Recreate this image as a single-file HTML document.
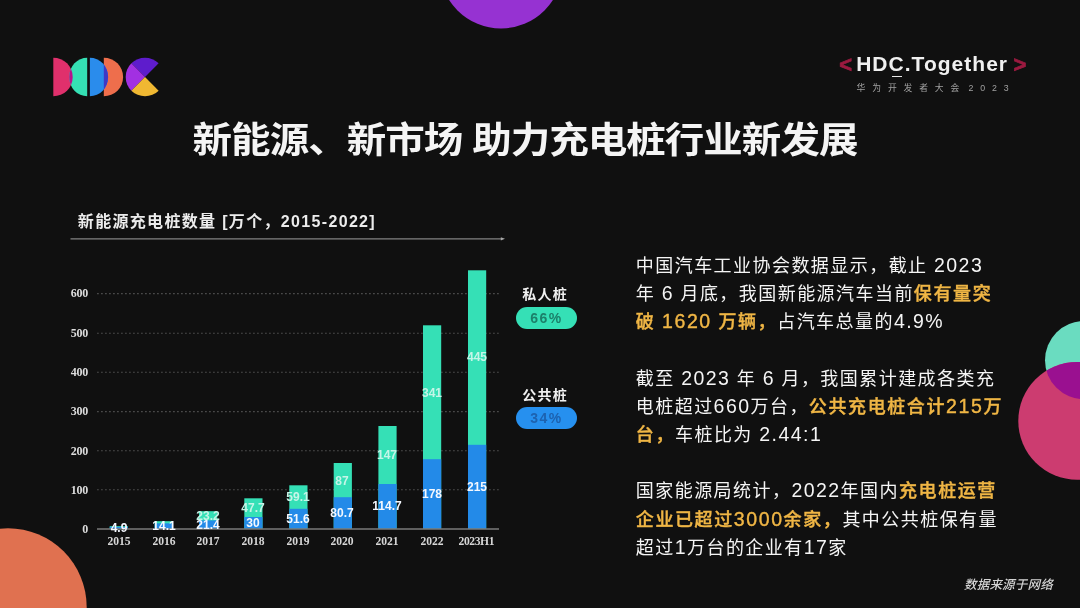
<!DOCTYPE html>
<html lang="zh-CN">
<head>
<meta charset="utf-8">
<title>新能源、新市场 助力充电桩行业新发展</title>
<style>
  html, body { margin: 0; padding: 0; }
  html { background: #101010; }
  body {
    width: 1080px; height: 608px; overflow: hidden; position: relative;
    background: #101010;
    font-family: "Liberation Sans", "Noto Sans CJK SC", sans-serif;
    color: #f2f2f2;
    filter: blur(0.35px);
  }
  .abs { position: absolute; white-space: nowrap; }
  svg.layer { position: absolute; left: 0; top: 0; width: 1080px; height: 608px; }

  /* header brand */
  .brand { left: 856.2px; top: 50px; font-size: 21px; font-weight: bold; line-height: 28px; letter-spacing: 1.02px; color: #f0f0f0; }
  .chev { top: 51.3px; font-size: 22px; font-weight: bold; line-height: 28px; color: #9c1a40; -webkit-text-stroke: 0.7px #9c1a40; }
  .brand-ul { left: 892.4px; top: 75.5px; width: 9.6px; height: 1.6px; background: #e8e8e8; }
  .brand-sub { left: 856.6px; top: 81.5px; font-size: 8.8px; line-height: 12px; letter-spacing: 6.85px; color: #a0a0a0; }
  .brand-sub span { margin-left: 2.4px; }

  /* title */
  .title { left: 192.6px; top: 117.3px; font-size: 39.5px; line-height: 52px; font-weight: bold; color: #f4f4f4; letter-spacing: -0.98px; transform: scaleY(0.91); transform-origin: left top; }

  /* chart */
  .chart-title { left: 77.8px; top: 210.1px; font-size: 16px; line-height: 24px; font-weight: bold; letter-spacing: 1.33px; color: #ececec; }
  .ylab { width: 26px; left: 62px; text-align: right; font-family: "Liberation Serif", serif; font-size: 12px; line-height: 14px; color: #dcdcdc; font-weight: bold; letter-spacing: -0.25px; }
  .xlab { width: 60px; text-align: center; font-family: "Liberation Serif", "Noto Serif CJK SC", serif; font-size: 11.6px; font-weight: bold; line-height: 14px; top: 534.6px; color: #d6d6d6; }
  .val { width: 60px; text-align: center; font-size: 12px; line-height: 12px; color: #f4f8ff; font-weight: bold; }
  .val.g { color: #c6f5e8; }
  .leg { font-size: 14px; line-height: 18px; font-weight: bold; color: #f0f0f0; letter-spacing: 1.2px; }
  .pill { left: 516px; width: 61px; height: 22px; border-radius: 11px; text-align: center; font-size: 14px; line-height: 22px; font-weight: bold; letter-spacing: 1.5px; }
  .pill.g { top: 306.8px; background: #35e0b6; color: #1c806a; }
  .pill.b { top: 407.3px; background: #2690ef; color: #1d62b0; }

  /* body text */
  .ln { left: 635.8px; font-size: 18px; line-height: 28px; letter-spacing: 1.45px; color: #f5f5f5; }
  .ln .n { font-size: 19.5px; }
  .hl { color: #f0b645; font-weight: 500; -webkit-text-stroke: 0.4px #f0b645; letter-spacing: 1.6px; }
  .src { left: 964px; top: 576px; font-size: 12.5px; line-height: 18px; font-style: italic; font-weight: 500; color: #d4d4d4; letter-spacing: 0.2px; }
</style>
</head>
<body>

<!-- decorative shapes + logo + chart graphics -->
<svg class="layer" viewBox="0 0 1080 608">
  <!-- decorative circles -->
  <circle cx="501" cy="-33" r="61.5" fill="#9632d2"/>
  <circle cx="8" cy="607" r="78.7" fill="#e07150"/>
  <circle cx="1084.1" cy="360.2" r="39.1" fill="#6adcc0"/>
  <circle cx="1077.2" cy="420.9" r="58.9" fill="#cc3c70"/>
  <clipPath id="cpTeal"><circle cx="1084.1" cy="360.2" r="39.1"/></clipPath>
  <circle cx="1077.2" cy="420.9" r="58.9" fill="#9a1090" clip-path="url(#cpTeal)"/>

  <!-- HDC logo -->
  <g id="logo">
    <path d="M53.3 57.7 A19.4 19.3 0 0 1 53.3 96.3 Z" fill="#e0306c"/>
    <path d="M87.2 57.7 A18 19.3 0 0 0 87.2 96.3 Z" fill="#35e0b4"/>
    <clipPath id="cpPink"><path d="M53.3 57.7 A19.4 19.3 0 0 1 53.3 96.3 Z"/></clipPath>
    <path d="M87.2 57.7 A18 19.3 0 0 0 87.2 96.3 Z" fill="#b8108c" clip-path="url(#cpPink)"/>
    <path d="M103.8 57.7 A19.3 19.3 0 0 1 103.8 96.3 Z" fill="#ee6e4c"/>
    <path d="M89.9 57.7 A18.2 19.3 0 0 1 89.9 96.3 Z" fill="#2a8cec"/>
    <clipPath id="cpOr"><path d="M103.8 57.7 A19.3 19.3 0 0 1 103.8 96.3 Z"/></clipPath>
    <path d="M89.9 57.7 A18.2 19.3 0 0 1 89.9 96.3 Z" fill="#4038c4" clip-path="url(#cpOr)"/>
    <!-- C -->
    <path d="M145 77 L131.35 63.35 A19.3 19.3 0 0 1 158.65 63.35 Z" fill="#5e1ccc"/>
    <path d="M145 77 L131.35 90.65 A19.3 19.3 0 0 1 131.35 63.35 Z" fill="#a230e2"/>
    <path d="M145 77 L158.65 90.65 A19.3 19.3 0 0 1 131.35 90.65 Z" fill="#f0b832"/>
  </g>

  <!-- chart header line -->
  <line x1="70.5" y1="238.85" x2="502" y2="238.85" stroke="#828282" stroke-width="1.3"/>
  <path d="M500.8 237.2 L505 238.85 L500.8 240.5 Z" fill="#a8a8a8"/>

  <!-- grid lines -->
  <g stroke="#4a4a4a" stroke-width="1.1" stroke-dasharray="1.8 2.2" fill="none">
    <line x1="97" y1="293.6" x2="499" y2="293.6"/>
    <line x1="97" y1="333.2" x2="499" y2="333.2"/>
    <line x1="97" y1="372.2" x2="499" y2="372.2"/>
    <line x1="97" y1="411.6" x2="499" y2="411.6"/>
    <line x1="97" y1="450.8" x2="499" y2="450.8"/>
    <line x1="97" y1="489.8" x2="499" y2="489.8"/>
  </g>

  <!-- bars: green (private) then blue (public) -->
  <g fill="#35e0b6">
    <rect x="109.7" y="526.2" width="18.2" height="2.6"/>
    <rect x="154.6" y="521.2" width="18.2" height="7.6"/>
    <rect x="199" y="511.2" width="18.2" height="17.6"/>
    <rect x="244.3" y="498.3" width="18.2" height="30.5"/>
    <rect x="289.3" y="485.3" width="18.2" height="43.5"/>
    <rect x="333.7" y="463" width="18.2" height="65.8"/>
    <rect x="378.4" y="426" width="18.2" height="102.8"/>
    <rect x="423" y="325.3" width="18.2" height="203.5"/>
    <rect x="468" y="270.3" width="18.2" height="258.5"/>
  </g>
  <g fill="#238ae8">
    <rect x="109.7" y="526.9" width="18.2" height="1.9"/>
    <rect x="154.6" y="523.3" width="18.2" height="5.5"/>
    <rect x="199" y="520.4" width="18.2" height="8.4"/>
    <rect x="244.3" y="517" width="18.2" height="11.8"/>
    <rect x="289.3" y="508.8" width="18.2" height="20"/>
    <rect x="333.7" y="497.2" width="18.2" height="31.6"/>
    <rect x="378.4" y="484" width="18.2" height="44.8"/>
    <rect x="423" y="459.2" width="18.2" height="69.6"/>
    <rect x="468" y="444.8" width="18.2" height="84"/>
  </g>

  <!-- axis -->
  <line x1="97" y1="529.1" x2="499" y2="529.1" stroke="#7a7a7a" stroke-width="1.5"/>
</svg>

<!-- brand -->
<div class="abs chev" style="left:839.3px">&lt;</div>
<div class="abs brand">HDC.Together</div>
<div class="abs chev" style="left:1013.6px">&gt;</div>
<div class="abs brand-ul"></div>
<div class="abs brand-sub">华为开发者大会<span>2023</span></div>

<!-- title -->
<div class="abs title">新能源、新市场 助力充电桩行业新发展</div>

<!-- chart title -->
<div class="abs chart-title">新能源充电桩数量 [万个，2015-2022]</div>

<!-- y labels -->
<div class="abs ylab" style="top:286px">600</div>
<div class="abs ylab" style="top:326px">500</div>
<div class="abs ylab" style="top:365px">400</div>
<div class="abs ylab" style="top:404px">300</div>
<div class="abs ylab" style="top:444px">200</div>
<div class="abs ylab" style="top:483px">100</div>
<div class="abs ylab" style="top:522px">0</div>

<!-- x labels -->
<div class="abs xlab" style="left:89px">2015</div>
<div class="abs xlab" style="left:134px">2016</div>
<div class="abs xlab" style="left:178px">2017</div>
<div class="abs xlab" style="left:223px">2018</div>
<div class="abs xlab" style="left:268px">2019</div>
<div class="abs xlab" style="left:312px">2020</div>
<div class="abs xlab" style="left:357px">2021</div>
<div class="abs xlab" style="left:402px">2022</div>
<div class="abs xlab" style="left:446.3px;letter-spacing:-0.4px">2023H1</div>

<!-- value labels -->
<div class="abs val" style="left:89px;top:522px">4.9</div>
<div class="abs val" style="left:134px;top:520px">14.1</div>
<div class="abs val" style="left:178px;top:519px">21.4</div>
<div class="abs val g" style="left:178px;top:510px">23.2</div>
<div class="abs val" style="left:223px;top:517px">30</div>
<div class="abs val g" style="left:223px;top:502px">47.7</div>
<div class="abs val" style="left:268px;top:513px">51.6</div>
<div class="abs val g" style="left:268px;top:491px">59.1</div>
<div class="abs val" style="left:312px;top:507px">80.7</div>
<div class="abs val g" style="left:312px;top:475px">87</div>
<div class="abs val" style="left:357px;top:500px">114.7</div>
<div class="abs val g" style="left:357px;top:449px">147</div>
<div class="abs val" style="left:402px;top:488px">178</div>
<div class="abs val g" style="left:402px;top:387px">341</div>
<div class="abs val" style="left:447px;top:481px">215</div>
<div class="abs val g" style="left:447px;top:351px">445</div>

<!-- legend -->
<div class="abs leg" style="left:522.3px;top:285px">私人桩</div>
<div class="abs pill g">66%</div>
<div class="abs leg" style="left:522.3px;top:386px">公共桩</div>
<div class="abs pill b">34%</div>

<!-- body text -->
<div class="abs ln" style="top:251.0px">中国汽车工业协会数据显示，截止 <span class="n">2023</span></div>
<div class="abs ln" style="top:279.2px">年 <span class="n">6</span> 月底，我国新能源汽车当前<span class="hl">保有量突</span></div>
<div class="abs ln" style="top:307.3px"><span class="hl">破 <span class="n">1620</span> 万辆，</span>占汽车总量的<span class="n">4.9%</span></div>

<div class="abs ln" style="top:363.7px">截至 <span class="n">2023</span> 年 <span class="n">6</span> 月，我国累计建成各类充</div>
<div class="abs ln" style="top:391.9px">电桩超过<span class="n">660</span>万台，<span class="hl">公共充电桩合计<span class="n">215</span>万</span></div>
<div class="abs ln" style="top:420.0px"><span class="hl">台，</span>车桩比为 <span class="n">2.44:1</span></div>

<div class="abs ln" style="top:476.4px">国家能源局统计，<span class="n">2022</span>年国内<span class="hl">充电桩运营</span></div>
<div class="abs ln" style="top:504.5px"><span class="hl">企业已超过<span class="n">3000</span>余家，</span>其中公共桩保有量</div>
<div class="abs ln" style="top:532.7px">超过<span class="n">1</span>万台的企业有<span class="n">17</span>家</div>

<div class="abs src">数据来源于网络</div>

</body>
</html>
